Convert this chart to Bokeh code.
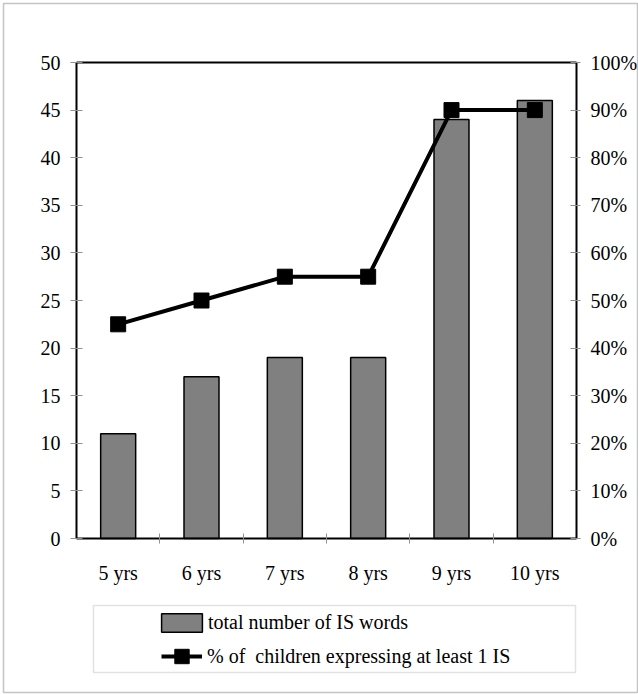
from bokeh.plotting import figure
from bokeh.models import (Range1d, LinearAxis, FixedTicker, NumeralTickFormatter,
                          Legend, LegendItem, BoxAnnotation, ColumnDataSource)
from bokeh.embed import file_html
from bokeh.resources import INLINE

categories = ["5 yrs", "6 yrs", "7 yrs", "8 yrs", "9 yrs", "10 yrs"]
is_words = [11, 17, 19, 19, 44, 46]
pct_children = [0.45, 0.50, 0.55, 0.55, 0.90, 0.90]
left_ticks = [0, 5, 10, 15, 20, 25, 30, 35, 40, 45, 50]
right_ticks = [0.0, 0.1, 0.2, 0.3, 0.4, 0.5, 0.6, 0.7, 0.8, 0.9, 1.0]
bar_label = "total number of IS words"
line_label = "% of  children expressing at least 1 IS"

n = len(categories)
pos = [i + 0.5 for i in range(n)]
bounds = [i for i in range(1, n)]
src = ColumnDataSource(dict(x=pos, cat=categories, words=is_words, pct=pct_children))

FONT = "Liberation Serif"
W, H = 638, 694
# layout (pixels): outer (figure frame) box and inner plotting box
FL, FR, FT, FB = 3, 638, 3, 692
PL, PR, PT, PB = 76, 576, 62, 538
YMAX = 50
sx = (PR - PL) / n
sy = (PB - PT) / YMAX
x_start, x_end = -(PL - FL) / sx, n + (FR - PR) / sx
y_start, y_end = -(FB - PB) / sy, YMAX + (PT - FT) / sy

p = figure(width=W, height=H, output_backend="svg", toolbar_location=None,
           x_range=Range1d(x_start, x_end), y_range=Range1d(y_start, y_end),
           x_axis_location=None, y_axis_location=None,
           min_border_left=FL, min_border_right=W - FR, min_border_top=FT,
           min_border_bottom=H - FB)
p.extra_y_ranges = {"pct": Range1d(y_start / YMAX, y_end / YMAX)}
p.grid.visible = False
p.outline_line_color = "#c4c4c4"
p.outline_line_width = 1.5
p.background_fill_color = "white"
p.border_fill_color = "white"


def style(ax):
    ax.axis_line_width = 2
    ax.axis_line_color = "black"
    ax.major_label_text_font = FONT
    ax.major_label_text_font_size = "20px"
    ax.major_label_text_color = "black"
    ax.minor_tick_line_color = None
    ax.major_tick_line_color = "#909090"


# x axis at y = 0
xa = LinearAxis(fixed_location=0, bounds=(0, n),
                ticker=FixedTicker(ticks=pos, minor_ticks=bounds))
style(xa)
xa.major_label_overrides = {pv: c for pv, c in zip(pos, categories)}
xa.major_tick_line_color = None
xa.minor_tick_in = 5
xa.minor_tick_out = 5
xa.minor_tick_line_color = "#909090"
xa.major_label_standoff = 17
p.add_layout(xa, "below")

# top border line of the plotting box
ta = LinearAxis(fixed_location=YMAX, bounds=(0, n), ticker=FixedTicker(ticks=[]))
style(ta)
p.add_layout(ta, "above")

# left axis at x = 0
ya = LinearAxis(fixed_location=0, bounds=(0, YMAX), ticker=FixedTicker(ticks=left_ticks))
style(ya)
ya.major_tick_in = 6
ya.major_tick_out = 6
ya.major_label_standoff = 10
p.add_layout(ya, "left")

# right axis at x = n
ra = LinearAxis(fixed_location=n, y_range_name="pct", bounds=(0, 1),
                ticker=FixedTicker(ticks=right_ticks),
                formatter=NumeralTickFormatter(format="0%"))
style(ra)
ra.major_tick_in = 6
ra.major_tick_out = 4
ra.major_label_standoff = 10
p.add_layout(ra, "right")

bars = p.vbar(x="x", top="words", width=0.42, source=src,
              fill_color="#808080", line_color="black", line_width=1.5)
ln = p.line(x="x", y="pct", y_range_name="pct", source=src,
            line_width=4, line_color="black")
sq = p.scatter(x="x", y="pct", y_range_name="pct", source=src,
               marker="square", size=15, fill_color="black", line_color="black")

common = dict(padding=0, margin=0, spacing=0, label_text_font=FONT,
              label_text_font_size="20px", label_text_color="black",
              border_line_color=None, background_fill_alpha=0)
# legend entry for the bars (swatch is drawn inset 10% in the glyph area)
legend_bar = Legend(items=[LegendItem(label=bar_label, renderers=[bars])],
                    location=(156 - FL, FB - 634), glyph_width=51, glyph_height=23,
                    label_standoff=1, **common)
# legend entry for the line
legend_line = Legend(items=[LegendItem(label=line_label, renderers=[ln, sq])],
                     location=(161 - FL, FB - 674), glyph_width=41, glyph_height=36,
                     label_standoff=5, **common)
p.add_layout(legend_bar, "center")
p.add_layout(legend_line, "center")

# legend frame (screen units, relative to frame bottom-left, y up)
p.add_layout(BoxAnnotation(left=93 - FL, right=575 - FL, top=FB - 605, bottom=FB - 672,
                           left_units="screen", right_units="screen",
                           top_units="screen", bottom_units="screen",
                           fill_alpha=0, line_color="#a0a0a0", line_width=1.5))

open("out.html", "w").write(file_html(p, INLINE))
